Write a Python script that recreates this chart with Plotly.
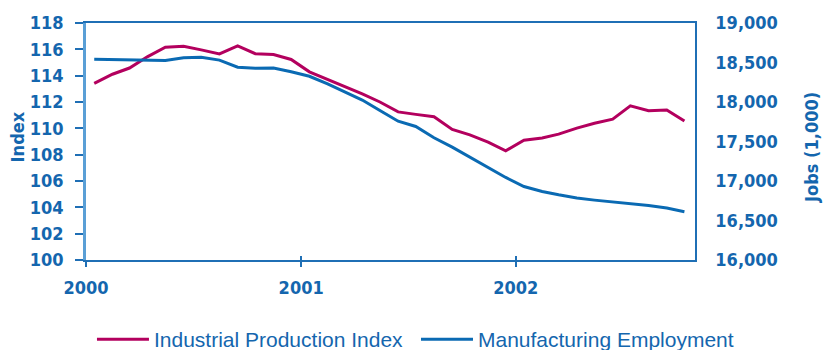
import plotly.graph_objects as go

months = [f"{y}-{m:02d}-15" for y in (2000, 2001, 2002) for m in range(1, 13)][:34]
ip_index = [113.41, 114.11, 114.58, 115.45, 116.16, 116.24, 115.96, 115.65, 116.26, 115.67,
            115.60, 115.23, 114.29, 113.73, 113.21, 112.62, 112.00, 111.25, 111.06, 110.88,
            109.92, 109.50, 108.95, 108.29, 109.10, 109.26, 109.56, 110.02, 110.38, 110.70,
            111.71, 111.33, 111.40, 110.55]
mfg_jobs = [18541, 18539, 18536, 18527, 18525, 18560, 18566, 18530, 18440, 18427,
            18431, 18383, 18326, 18230, 18129, 18025, 17892, 17757, 17690, 17548,
            17428, 17302, 17172, 17045, 16930, 16868, 16825, 16784, 16758, 16736,
            16712, 16690, 16657, 16611]
year_ticks = ["2000-01-01", "2001-01-01", "2002-01-01"]
year_labels = ["2000", "2001", "2002"]
left_ticks = list(range(100, 119, 2))
right_ticks = list(range(16000, 19001, 500))

MAGENTA = "#b3005e"
BLUE = "#0a6ab3"
TXT = "#1466ae"
AXB = "#1f6fb5"
XRANGE = ["2000-01-01", "2002-11-02"]
TICKFONT = dict(family="DejaVu Sans Condensed", size=18, color=TXT, weight="bold")
LEGFONT = dict(family="Liberation Sans", size=21, color=TXT)

fig = go.Figure()
fig.add_trace(go.Scatter(x=months, y=ip_index, name="Industrial Production Index",
                         mode="lines", line=dict(color=MAGENTA, width=3), yaxis="y",
                         legend="legend"))
fig.add_trace(go.Scatter(x=months, y=mfg_jobs, name="Manufacturing Employment",
                         mode="lines", line=dict(color=BLUE, width=3), yaxis="y2",
                         legend="legend2"))
fig.add_trace(go.Scatter(x=[], y=[], xaxis="x3", yaxis="y", showlegend=False, hoverinfo="skip"))

legend_common = dict(orientation="h", xref="container", yref="container",
                     xanchor="left", y=0.03, yanchor="middle",
                     font=LEGFONT, itemwidth=52, bgcolor="rgba(0,0,0,0)")

fig.update_layout(
    width=830, height=350,
    margin=dict(l=86, r=135, t=23, b=90, autoexpand=False),
    paper_bgcolor="white", plot_bgcolor="white",
    xaxis=dict(type="date", range=XRANGE, tickvals=year_ticks, ticktext=year_labels,
               showgrid=False, zeroline=False, showline=True, linecolor=AXB, linewidth=1.5,
               mirror=True, ticks="outside", ticklen=5, tickcolor=AXB, tickwidth=1.5,
               tickfont=TICKFONT, ticklabelstandoff=6),
    xaxis3=dict(type="date", range=XRANGE, tickvals=year_ticks, overlaying="x", anchor="y",
                showticklabels=False, showgrid=False, zeroline=False, showline=False,
                ticks="inside", ticklen=4, tickcolor=AXB, tickwidth=1.5),
    yaxis=dict(range=[100, 118], tickvals=left_ticks, showgrid=False, zeroline=False,
               showline=True, linecolor="#5a9fd6", linewidth=2.5,
               ticks="outside", ticklen=8, tickcolor=AXB, tickwidth=1.5,
               tickfont=TICKFONT, ticklabelstandoff=8),
    yaxis2=dict(range=[16000, 19000], tickvals=right_ticks, tickformat=",",
                overlaying="y", side="right", showgrid=False, zeroline=False,
                showline=True, linecolor=AXB, linewidth=1.5, ticks="",
                tickfont=TICKFONT, ticklabelstandoff=15),
    legend=dict(x=0.1108, **legend_common),
    legend2=dict(x=0.5012, **legend_common),
    showlegend=True,
)
fig.add_annotation(text="Index", xref="paper", yref="paper", x=-0.113, y=0.518,
                   textangle=-90, showarrow=False, xanchor="center", yanchor="middle",
                   font=TICKFONT)
fig.add_annotation(text="Jobs (1,000)", xref="paper", yref="paper", x=1.19, y=0.476,
                   textangle=-90, showarrow=False, xanchor="center", yanchor="middle",
                   font=TICKFONT)

fig.write_html("out.html")
